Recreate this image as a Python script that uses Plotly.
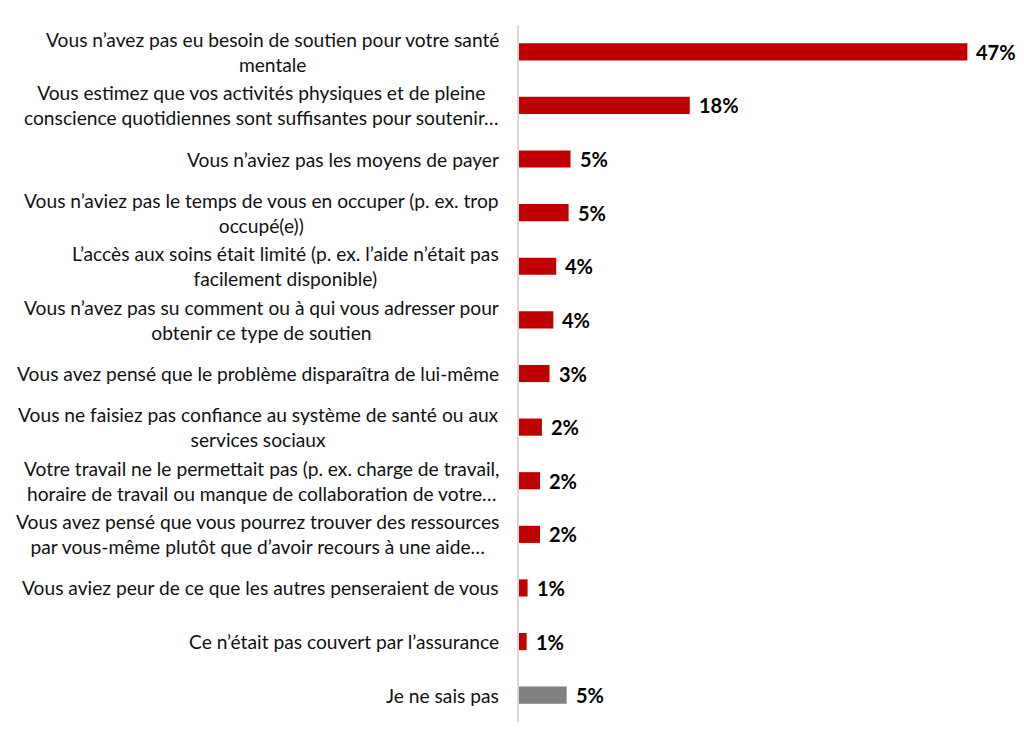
import plotly.graph_objects as go

categories = [
    "Vous n’avez pas eu besoin de soutien pour votre santé<br>mentale",
    "Vous estimez que vos activités physiques et de pleine<br>conscience quotidiennes sont suffisantes pour soutenir…",
    "Vous n’aviez pas les moyens de payer",
    "Vous n’aviez pas le temps de vous en occuper (p. ex. trop<br>occupé(e))",
    "L’accès aux soins était limité (p. ex. l’aide n’était pas<br>facilement disponible)",
    "Vous n’avez pas su comment ou à qui vous adresser pour<br>obtenir ce type de soutien",
    "Vous avez pensé que le problème disparaîtra de lui-même",
    "Vous ne faisiez pas confiance au système de santé ou aux<br>services sociaux",
    "Votre travail ne le permettait pas (p. ex. charge de travail,<br>horaire de travail ou manque de collaboration de votre…",
    "Vous avez pensé que vous pourrez trouver des ressources<br>par vous-même plutôt que d’avoir recours à une aide…",
    "Vous aviez peur de ce que les autres penseraient de vous",
    "Ce n’était pas couvert par l’assurance",
    "Je ne sais pas",
]
values = [47, 17.9, 5.4, 5.2, 3.9, 3.6, 3.2, 2.4, 2.2, 2.2, 0.9, 0.8, 5.0]
value_labels = ["47%", "18%", "5%", "5%", "4%", "4%", "3%", "2%", "2%", "2%", "1%", "1%", "5%"]
bar_colors = ["#C00000"] * 12 + ["#808080"]

ids = list(range(len(categories)))

fig = go.Figure()
fig.add_trace(go.Bar(
    y=ids, x=values, orientation="h",
    marker=dict(color=bar_colors, line=dict(width=0)),
    width=0.32,
    hoverinfo="skip",
))

W, H = 1008, 732
L, T, B = 511, 17, 18
R = W - L - 477.5

annotations = []
for i, (c, v, t) in enumerate(zip(categories, values, value_labels)):
    annotations.append(dict(
        x=-0.038, xref="paper", y=i, yref="y",
        text=c, showarrow=False, xanchor="right", yanchor="middle",
        align="center", font=dict(family="Lato", size=19.2, color="#111111"),
    ))
    annotations.append(dict(
        x=v, xref="x", y=i, yref="y",
        text="<b>" + t + "</b>", showarrow=False, xanchor="left", yanchor="middle",
        xshift=7, font=dict(family="Lato", size=20, color="#000000"),
    ))

fig.update_layout(
    width=W, height=H,
    margin=dict(l=L, r=R, t=T, b=B),
    paper_bgcolor="white", plot_bgcolor="white",
    showlegend=False,
    xaxis=dict(range=[0, 50], visible=False, fixedrange=True),
    yaxis=dict(range=[len(categories) - 0.5, -0.5], showticklabels=False,
               showgrid=False, zeroline=False, showline=True,
               linecolor="#d9d9d9", linewidth=1.5, ticks=""),
    annotations=annotations,
)

fig.write_html("out.html")
